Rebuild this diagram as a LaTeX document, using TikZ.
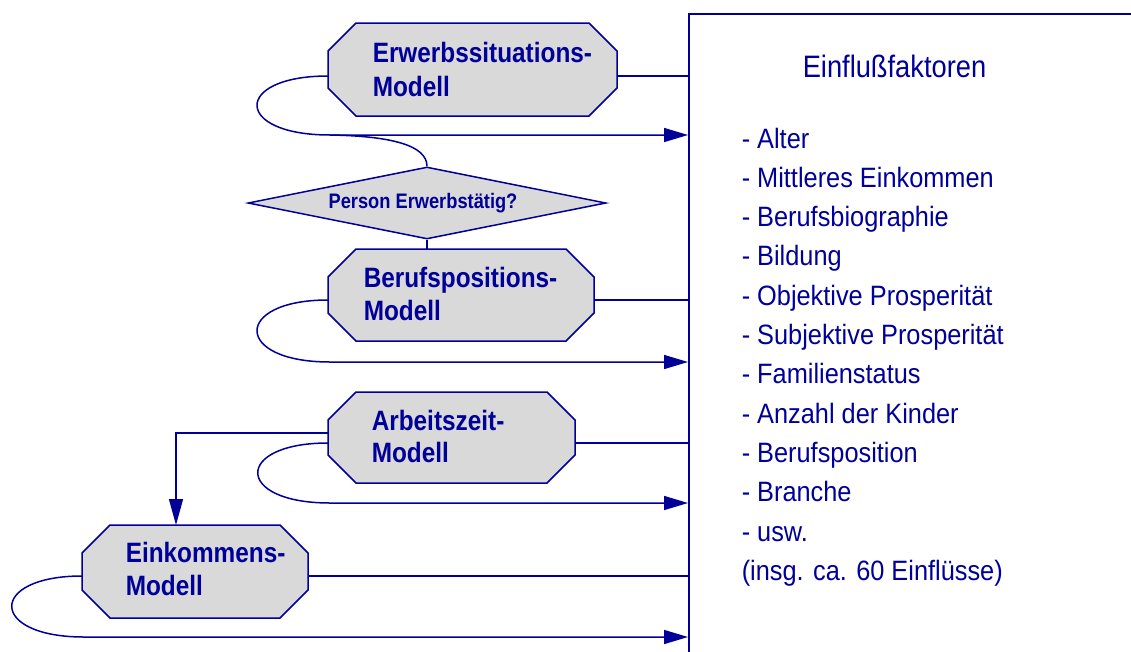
\documentclass[tikz,border=0pt]{standalone}
\usepackage{fontspec}
\setmainfont{Liberation Sans}
\newfontfamily\octfont[FakeStretch=0.87]{Liberation Sans}
\newfontfamily\headfont[FakeStretch=0.88]{Liberation Sans}
\newfontfamily\listfont[FakeStretch=0.905]{Liberation Sans}
\usetikzlibrary{arrows.meta,calc,shapes.geometric}
\definecolor{dblue}{RGB}{0,0,153}
\definecolor{lgray}{RGB}{217,217,217}
\newcommand\drawocto[1]{%
  \filldraw[octo] ($(#1.north west)+(28pt,0pt)$) -- ($(#1.north east)+(-28pt,0pt)$)
   -- ($(#1.north east)+(0pt,-28pt)$) -- ($(#1.south east)+(0pt,28pt)$)
   -- ($(#1.south east)+(-28pt,0pt)$) -- ($(#1.south west)+(28pt,0pt)$)
   -- ($(#1.south west)+(0pt,28pt)$) -- ($(#1.north west)+(0pt,-28pt)$) -- cycle;}
\begin{document}
\begin{tikzpicture}[x=1pt,y=-1pt,line width=1.5pt,color=dblue,
  octo/.style={draw=dblue,fill=lgray,line join=miter},
  area/.style={inner sep=0pt,outer sep=0pt},
  btxt/.style={font=\octfont\bfseries\fontsize{28}{34}\selectfont,text=dblue,inner sep=0pt,anchor=base west},
  dtxt/.style={font=\octfont\bfseries\fontsize{21}{25}\selectfont,text=dblue,inner sep=0pt,anchor=base},
  htxt/.style={font=\headfont\fontsize{31}{36}\selectfont,text=dblue,inner sep=0pt,anchor=base west},
  ltxt/.style={font=\listfont\fontsize{28}{34}\selectfont,text=dblue,inner sep=0pt,anchor=base west},
  arr/.style={-{Triangle[length=24pt,width=14pt]}},
  arrd/.style={-{Triangle[length=26pt,width=14pt]}}]
\useasboundingbox (0,0) rectangle (1131,651);
\fill[white] (0,0) rectangle (1131,651);
% big box
\node[draw=dblue,minimum width=500pt,minimum height=700pt,anchor=north west,inner sep=0pt] (box) at (688,13) {};
% area nodes of the octagons
\node[area,minimum width=289pt,minimum height=93pt] (e1) at (472.5,69.5) {};
\node[area,minimum width=266pt,minimum height=92pt] (b) at (461,295) {};
\node[area,minimum width=247pt,minimum height=91pt] (a) at (451.5,437.5) {};
\node[area,minimum width=226pt,minimum height=93pt] (k) at (195,571.5) {};
\node[diamond,draw=dblue,fill=lgray,minimum width=358pt,minimum height=72pt,inner sep=0pt] (dia) at (427,203) {};
% helper coordinates
\coordinate (e1r) at (0,76);  \coordinate (e1l) at (330,135);
\coordinate (br) at (0,300);  \coordinate (bl) at (330,362);
\coordinate (ar) at (0,443);  \coordinate (al) at (330,503);
\coordinate (ak) at (176,433);
\coordinate (kr) at (0,576);  \coordinate (kl) at (84,637);
% connectors
\draw (e1.east |- e1r) -- (box.west |- e1r);
\draw[arr] (e1.west |- e1r) .. controls (233,76) and (233,135) .. (e1l) -- (box.west |- e1l);
\draw (e1l) .. controls (390,136) and (dia.north |- 0,145) .. (dia.north);
\draw (dia.south) -- (dia.south |- b.north);
\draw (b.east |- br) -- (box.west |- br);
\draw[arr] (b.west |- br) .. controls (233,300) and (233,362) .. (bl) -- (box.west |- bl);
\draw (a.east |- ar) -- (box.west |- ar);
\draw[arr] (a.west |- ar) .. controls (234,443) and (234,503) .. (al) -- (box.west |- al);
\draw[arrd,line join=miter] (a.west |- ak) -- (ak) -- (ak |- k.north);
\draw (k.east |- kr) -- (box.west |- kr);
\draw[arr] (k.west |- kr) .. controls (-12,576) and (-12,637) .. (kl) -- (box.west |- kl);
% octagons
\drawocto{e1}
\drawocto{b}
\drawocto{a}
\drawocto{k}
% texts
\node[btxt] (e1a) at (372,62) {Erwerbssituations-};
\node[btxt] (e1b) at (372,96) {Modell};
\node[btxt] (ba) at (363,287) {Berufspositions-};
\node[btxt] (bb) at (363,320) {Modell};
\node[btxt] (aa) at (371,430) {Arbeitszeit-};
\node[btxt] (ab) at (371,462) {Modell};
\node[btxt] (ka) at (125,562) {Einkommens-};
\node[btxt] (kb) at (125,595) {Modell};
\node[dtxt] (diat) at (423,208) {Person Erwerbstätig?};
\node[htxt] (head) at (802,77) {Einflußfaktoren};
\foreach \t [count=\i] in {- Alter,- Mittleres Einkommen,- Berufsbiographie,- Bildung,- Objektive Prosperität,- Subjektive Prosperität,- Familienstatus,- Anzahl der Kinder,- Berufsposition,- Branche,- usw.,(insg. ca. 60 Einflüsse)}
  \node[ltxt] (f\i) at (741,{148+39.3*(\i-1)}) {\t};
\end{tikzpicture}
\end{document}
